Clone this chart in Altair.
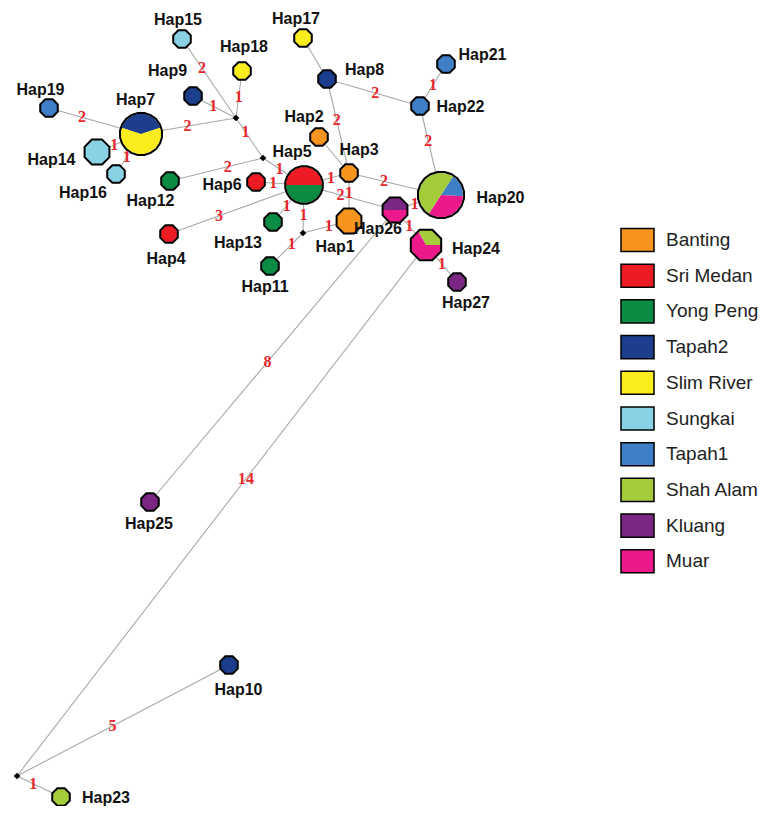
import math
import altair as alt
import pandas as pd

# ---------------- data ----------------
hap_names = [f"Hap{i}" for i in range(1, 28)]
# network layout coordinates
hap_x = [349, 319, 349, 169, 304, 256, 141, 327, 193, 229, 270, 170, 273, 97, 182,
         116, 303, 242, 49, 441, 446, 420, 61, 426, 150, 395, 457]
hap_y = [221, 137, 173, 234, 185, 182, 134, 79, 96, 665, 266, 181, 222, 152, 39,
         174, 38, 71, 108, 195, 64, 106, 797, 245, 502, 210, 282]

mv_names = ["mv1", "mv2", "mv3", "mv4"]
mv_x = [236, 263, 303, 17]
mv_y = [118, 158, 233, 776]

populations = ["Banting", "Sri Medan", "Yong Peng", "Tapah2", "Slim River",
               "Sungkai", "Tapah1", "Shah Alam", "Kluang", "Muar"]
pop_colors = ["#f7941d", "#ed1c24", "#0b8c45", "#1b3f8d", "#fbed1d",
              "#89d2e6", "#3f7fc7", "#a3cb3a", "#7a2783", "#ec198d"]

# haplotype composition (population, count)
comp_hap = ["Hap1", "Hap2", "Hap3", "Hap4", "Hap5", "Hap5", "Hap6", "Hap7", "Hap7",
            "Hap8", "Hap9", "Hap10", "Hap11", "Hap12", "Hap13", "Hap14", "Hap15",
            "Hap16", "Hap17", "Hap18", "Hap19", "Hap20", "Hap20", "Hap20", "Hap21",
            "Hap22", "Hap23", "Hap24", "Hap24", "Hap25", "Hap26", "Hap26", "Hap27"]
comp_pop = ["Banting", "Banting", "Banting", "Sri Medan", "Sri Medan", "Yong Peng",
            "Sri Medan", "Tapah2", "Slim River", "Tapah2", "Tapah2", "Tapah2",
            "Yong Peng", "Yong Peng", "Yong Peng", "Sungkai", "Sungkai", "Sungkai",
            "Slim River", "Slim River", "Tapah1", "Tapah1", "Muar", "Shah Alam",
            "Tapah1", "Tapah1", "Shah Alam", "Shah Alam", "Muar", "Kluang",
            "Kluang", "Muar", "Kluang"]
comp_count = [2, 1, 1, 1, 2, 2, 1, 2, 3, 1, 1, 1, 1, 1, 1, 2, 1, 1, 1, 1, 1, 1, 2, 3,
              1, 1, 1, 1, 2, 1, 1, 1, 1]

# pie orientation (fraction of a turn, clockwise from 12 o'clock)
pie_start = {"Hap5": -0.25, "Hap7": -0.2, "Hap20": 0.092, "Hap24": -0.083, "Hap26": -0.25}

# label offsets from node centre
label_dx = [-14, -15, 10, -3, -12, -34, -5.5, 37.5, -25.5, 9.5, -5, -19.5, -35, -45.5,
            -4, -33, -7, 2, -8.5, 59.5, 36.5, 40.5, 45, 50, -1, -17, 9]
label_dy = [25.5, -20, -23, 25, -33, 3, -34.5, -9, -25, 25, 21, 20, 21, 8, -19.5, 19,
            -19.5, -24, -18, 3, -9, 0.5, 1, 3.5, 22, 19, 21]

# edges: source, target, mutation steps label, label position along edge
edge_src = ["Hap15", "Hap18", "Hap9", "Hap7", "mv1", "Hap19", "Hap14", "Hap16", "Hap12",
            "mv2", "Hap6", "Hap4", "Hap13", "Hap5", "mv3", "mv3", "Hap5", "Hap5", "Hap3",
            "Hap2", "Hap8", "Hap17", "Hap8", "Hap21", "Hap22", "Hap3", "Hap26", "Hap26",
            "Hap24", "Hap25", "mv4", "mv4", "mv4"]
edge_dst = ["mv1", "mv1", "mv1", "mv1", "mv2", "Hap7", "Hap7", "Hap7", "mv2",
            "Hap5", "Hap5", "Hap5", "Hap5", "mv3", "Hap11", "Hap1", "Hap3", "Hap26", "Hap1",
            "Hap3", "Hap3", "Hap8", "Hap22", "Hap22", "Hap20", "Hap20", "Hap20", "Hap24",
            "Hap27", "Hap26", "Hap24", "Hap10", "Hap23"]
edge_steps = ["2", "1", "1", "2", "1", "2", "1", "1", "2",
              "1", "1", "3", "1", "1", "1", "1", "1", "2", "1",
              "", "2", "", "2", "1", "2", "2", "1", "1",
              "1", "8", "14", "5", "1"]
edge_t = [0.37, 0.55, 0.47, 0.49, 0.35, 0.36, 0.39, 0.43, 0.62,
          0.40, 0.36, 0.37, 0.44, 0.62, 0.34, 0.56, 0.60, 0.40, 0.42,
          0.5, 0.44, 0.5, 0.52, 0.50, 0.39, 0.38, 0.43, 0.46,
          0.52, 0.48, 0.56, 0.45, 0.37]

# ---------------- tables ----------------
pos = {n: (x, y) for n, x, y in zip(hap_names, hap_x, hap_y)}
pos.update({n: (x, y) for n, x, y in zip(mv_names, mv_x, mv_y)})

comp = pd.DataFrame({"hap": comp_hap, "pop": comp_pop, "count": comp_count})
comp["total"] = comp.groupby("hap")["count"].transform("sum")
comp["frac"] = comp["count"] / comp["total"]
comp["start"] = comp["hap"].map(pie_start).fillna(0.0)
comp["t1"] = comp.groupby("hap")["frac"].cumsum() + comp["start"]
comp["t0"] = comp["t1"] - comp["frac"]
comp["x"] = comp["hap"].map(lambda h: pos[h][0])
comp["y"] = comp["hap"].map(lambda h: pos[h][1])

nodes = pd.DataFrame({"hap": hap_names, "x": hap_x, "y": hap_y,
                      "dx": label_dx, "dy": label_dy})
nodes["total"] = nodes["hap"].map(comp.groupby("hap")["count"].sum())

mvs = pd.DataFrame({"name": mv_names, "x": mv_x, "y": mv_y})

edges = pd.DataFrame({"src": edge_src, "dst": edge_dst, "label": edge_steps, "t": edge_t})
edges["x"] = edges["src"].map(lambda n: pos[n][0])
edges["y"] = edges["src"].map(lambda n: pos[n][1])
edges["x2"] = edges["dst"].map(lambda n: pos[n][0])
edges["y2"] = edges["dst"].map(lambda n: pos[n][1])

# ---------------- chart ----------------
W, H = 755, 798
xs = alt.Scale(domain=[8, 8 + W], nice=False, zero=False)
ys = alt.Scale(domain=[8, 8 + H], nice=False, zero=False, reverse=True)


def polygon_path(n, phase):
    pts = []
    for k in range(n):
        a = phase + 2 * math.pi * k / n
        pts.append(f"{math.sin(a):.4f},{-math.cos(a):.4f}")
    return "M" + "L".join(pts) + "Z"


OCT = polygon_path(8, math.pi / 8)
POLY = polygon_path(20, math.pi / 20)

size_scale = alt.Scale(domain=[0, 6], range=[0, 2166])

edge_layer = alt.Chart(edges).mark_rule(color="#a8a8a8", strokeWidth=1.1).encode(
    x=alt.X("x:Q", scale=xs, axis=None),
    y=alt.Y("y:Q", scale=ys, axis=None),
    x2="x2:Q", y2="y2:Q",
)

pie_layer = alt.Chart(comp).mark_arc().encode(
    x=alt.X("x:Q", scale=xs, axis=None),
    y=alt.Y("y:Q", scale=ys, axis=None),
    theta=alt.Theta("t0:Q", scale=alt.Scale(domain=[0, 1])),
    theta2="t1:Q",
    radius=alt.Radius("total:Q", scale=alt.Scale(type="sqrt", domain=[0, 6], range=[0, 22.1])),
    color=alt.Color(
        "pop:N",
        scale=alt.Scale(domain=populations, range=pop_colors),
        sort=populations,
        legend=alt.Legend(
            title=None, orient="none", legendX=612, legendY=214.5, direction="vertical",
            symbolType="M-1,-0.7H1V0.7H-1Z", symbolSize=1089,
            symbolStrokeColor="black", symbolStrokeWidth=1.5, symbolOpacity=1,
            labelFont="Liberation Sans", labelFontSize=19, labelColor="#222222",
            labelOffset=11, rowPadding=2.7, padding=0,
        ),
    ),
)

outline_small = alt.Chart(nodes).transform_filter("datum.total <= 3").mark_point(
    shape=OCT, filled=False, color="black", strokeWidth=2, opacity=1
).encode(
    x=alt.X("x:Q", scale=xs, axis=None),
    y=alt.Y("y:Q", scale=ys, axis=None),
    size=alt.Size("total:Q", scale=size_scale, legend=None),
)

outline_big = alt.Chart(nodes).transform_filter("datum.total > 3").mark_point(
    shape=POLY, filled=False, color="black", strokeWidth=2, opacity=1
).encode(
    x=alt.X("x:Q", scale=xs, axis=None),
    y=alt.Y("y:Q", scale=ys, axis=None),
    size=alt.Size("total:Q", scale=size_scale, legend=None),
)

mv_layer = alt.Chart(mvs).mark_point(
    shape="diamond", filled=True, color="black", size=45, opacity=1
).encode(
    x=alt.X("x:Q", scale=xs, axis=None),
    y=alt.Y("y:Q", scale=ys, axis=None),
)

edge_label_layer = alt.Chart(edges).transform_filter(
    "datum.label != ''"
).transform_calculate(
    lx="datum.x + datum.t * (datum.x2 - datum.x)",
    ly="datum.y + datum.t * (datum.y2 - datum.y)",
).mark_text(
    font="Liberation Serif", fontWeight="bold", fontSize=16, color="#e8262b",
    align="center", baseline="middle",
).encode(
    x=alt.X("lx:Q", scale=xs, axis=None),
    y=alt.Y("ly:Q", scale=ys, axis=None),
    text="label:N",
)

node_label_layer = alt.Chart(nodes).transform_calculate(
    lx="datum.x + datum.dx", ly="datum.y + datum.dy"
).mark_text(
    font="Liberation Sans", fontWeight="bold", fontSize=16, color="#111111",
    align="center", baseline="middle",
).encode(
    x=alt.X("lx:Q", scale=xs, axis=None),
    y=alt.Y("ly:Q", scale=ys, axis=None),
    text="hap:N",
)

chart = alt.layer(
    edge_layer, pie_layer, outline_small, outline_big, mv_layer,
    edge_label_layer, node_label_layer
).properties(
    width=W, height=H, padding=0, autosize=alt.AutoSizeParams(type="none"),
    background="white",
).configure_view(strokeWidth=0)

chart.save("out.html", embed_options={"renderer": "svg", "actions": False})
